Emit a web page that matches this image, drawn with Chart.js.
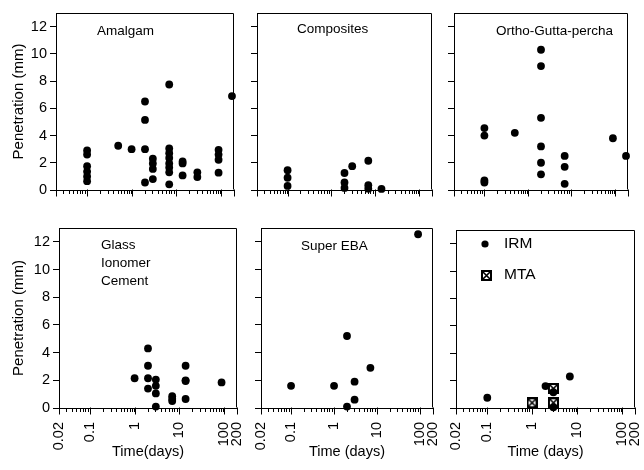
<!DOCTYPE html>
<html>
<head>
<meta charset="utf-8">
<script src="https://cdn.jsdelivr.net/npm/chart.js@4.4.1/dist/chart.umd.min.js"></script>
<style>
  html, body { margin: 0; padding: 0; background: #fff; }
  #wrap { position: relative; width: 644px; height: 470px; overflow: hidden; }
  #wrap canvas { position: absolute; }
</style>
</head>
<body>
<div id="wrap"></div>
<script>
// ── Data: time (days) / penetration (mm) ──
const AMALGAM_T  = [0.1, 0.1, 0.1, 0.1, 0.1, 0.1, 0.5, 1, 2, 2, 2, 2, 3, 3, 3, 3,
                    7, 7, 7, 7, 7, 7, 7, 7, 14, 14, 14, 30, 30, 90, 90, 90, 90, 180];
const AMALGAM_MM = [2.9, 2.6, 1.75, 1.35, 1.0, 0.65, 3.25, 3.0, 6.5, 5.15, 3.0, 0.55, 2.3, 1.95, 1.55, 0.8,
                    7.75, 3.05, 2.7, 2.35, 1.95, 1.65, 1.3, 0.42, 2.1, 1.95, 1.07, 1.3, 0.95, 2.95, 2.6, 2.22, 1.27, 6.9];

const COMPOSITE_T  = [0.1, 0.1, 0.1, 2, 2, 2, 3, 7, 7, 7, 14];
const COMPOSITE_MM = [1.45, 0.9, 0.3, 1.25, 0.55, 0.15, 1.75, 2.15, 0.35, 0.1, 0.08];

const ORTHO_T  = [0.1, 0.1, 0.1, 0.1, 0.5, 2, 2, 2, 2, 2, 2, 7, 7, 7, 90, 180];
const ORTHO_MM = [4.55, 4.0, 0.7, 0.55, 4.2, 10.3, 9.1, 5.3, 3.2, 2.0, 1.15, 2.5, 1.7, 0.45, 3.8, 2.5];

const GLASS_T  = [1, 2, 2, 2, 2, 3, 3, 3, 3, 7, 7, 7, 14, 14, 14, 14, 90];
const GLASS_MM = [2.15, 4.3, 3.05, 2.15, 1.4, 2.05, 1.6, 1.05, 0.1, 0.85, 0.65, 0.5, 3.05, 2.0, 1.95, 0.65, 1.85];

const SUPEREBA_T  = [0.1, 1, 2, 2, 3, 3, 7, 90];
const SUPEREBA_MM = [1.6, 1.6, 5.2, 0.1, 1.9, 0.6, 2.9, 12.55];

const IRM_T  = [0.1, 2, 3, 3, 7];
const IRM_MM = [0.75, 1.6, 1.15, 0.05, 2.3];

const MTA_T  = [1, 3, 3];
const MTA_MM = [0.38, 1.42, 0.38];

// ── Axis ticks ──
const X_TICKS = [0.02, 0.03, 0.04, 0.05, 0.06, 0.07, 0.08, 0.09,
                 0.1, 0.2, 0.3, 0.4, 0.5, 0.6, 0.7, 0.8, 0.9,
                 1, 2, 3, 4, 5, 6, 7, 8, 9,
                 10, 20, 30, 40, 50, 60, 70, 80, 90, 100, 200];
const X_MAJOR  = [0.02, 0.1, 1, 10, 100, 200];
const X_LABELS = ['0.02', '0.1', '1', '10', '100', '200'];
const Y_TICKS  = [0, 2, 4, 6, 8, 10, 12];

const FONT = "'Liberation Sans', Arial, Helvetica, sans-serif";
Chart.defaults.font.family = FONT;
Chart.defaults.color = '#000';

// square with a cross, used for MTA
function mtaMarker() {
    const c = document.createElement('canvas');
    c.width = 11; c.height = 11;
    const g = c.getContext('2d');
    g.fillStyle = '#fff';
    g.fillRect(0, 0, 11, 11);
    g.strokeStyle = '#000';
    g.lineWidth = 2;
    g.strokeRect(1, 1, 9, 9);
    g.lineWidth = 1.6;
    g.beginPath();
    g.moveTo(2, 2); g.lineTo(9, 9);
    g.moveTo(9, 2); g.lineTo(2, 9);
    g.stroke();
    return c;
}
const MTA_IMG = mtaMarker();

const pts = (t, mm) => t.map((v, i) => ({ x: v, y: mm[i] }));
const dots = (t, mm) => ({ data: pts(t, mm), pointStyle: 'circle', pointRadius: 3.9,
                           backgroundColor: '#000', borderWidth: 0, showLine: false, clip: false });

// ── Panels: chart area [left, top, right, bottom] in page px ──
const PANELS = [
    { area: [56, 13, 234, 190],  first: true,  bottom: false, title: '',
      sets: [dots(AMALGAM_T, AMALGAM_MM)],     notes: [['Amalgam', 97, 31]] },
    { area: [257, 13, 432, 190], first: false, bottom: false, title: '',
      sets: [dots(COMPOSITE_T, COMPOSITE_MM)], notes: [['Composites', 297, 29]] },
    { area: [454, 13, 628, 190], first: false, bottom: false, title: '',
      sets: [dots(ORTHO_T, ORTHO_MM)],         notes: [['Ortho-Gutta-percha', 496, 31]] },
    { area: [59, 228, 237, 408], first: true,  bottom: true, title: 'Time(days)',
      sets: [dots(GLASS_T, GLASS_MM)],
      notes: [['Glass', 101, 245], ['Ionomer', 101, 263], ['Cement', 101, 281]] },
    { area: [261, 228, 433, 408], first: false, bottom: true, title: 'Time (days)',
      sets: [dots(SUPEREBA_T, SUPEREBA_MM)],   notes: [['Super EBA', 301, 246]] },
    { area: [456, 228, 635, 408], first: false, bottom: true, title: 'Time (days)',
      sets: [dots(IRM_T, IRM_MM),
             { data: pts(MTA_T, MTA_MM), pointStyle: MTA_IMG, pointRadius: 5, showLine: false, clip: false }],
      notes: [],
      legend: [['dot', 485, 244, 'IRM'], ['mta', 486, 275, 'MTA']] },
];

// box, longer major ticks, in-panel labels and legend
const panelDecor = {
    id: 'panelDecor',
    beforeDatasetsDraw(chart) {
        const { ctx, chartArea: a } = chart;
        ctx.save();
        ctx.strokeStyle = '#000';
        ctx.lineWidth = 1;
        const L = Math.round(a.left) + 0.5, R = Math.round(a.right) - 0.5;
        const T = Math.round(a.top) + 0.5, B = Math.round(a.bottom) - 0.5;
        ctx.beginPath();
        ctx.moveTo(L, T); ctx.lineTo(R, T); ctx.lineTo(R, B);
        // major ticks on the time axis
        const xs = chart.scales.x;
        X_MAJOR.forEach(v => {
            const px = Math.round(xs.getPixelForValue(v)) + 0.5;
            ctx.moveTo(px, B); ctx.lineTo(px, B + 7);
        });
        ctx.stroke();
        ctx.restore();
    },
    afterDraw(chart) {
        const { ctx } = chart;
        const p = chart.options.plugins.panelDecor;
        ctx.save();
        ctx.fillStyle = '#000';
        ctx.font = '13.5px ' + FONT;
        ctx.textBaseline = 'middle';
        ctx.textAlign = 'left';
        p.notes.forEach(([txt, x, y]) => ctx.fillText(txt, x - p.ox, y - p.oy));
        ctx.font = '15.5px ' + FONT;
        (p.legend || []).forEach(([kind, x, y, txt]) => {
            if (kind === 'dot') {
                ctx.beginPath();
                ctx.arc(x - p.ox, y - p.oy, 3.6, 0, Math.PI * 2);
                ctx.fill();
            } else {
                ctx.drawImage(MTA_IMG, Math.round(x - p.ox - 5.5), Math.round(y - p.oy - 5.5));
            }
            ctx.fillText(txt, 504 - p.ox, y - p.oy);
        });
        ctx.restore();
    }
};

const wrap = document.getElementById('wrap');

PANELS.forEach(pn => {
    const [l, t, r, b] = pn.area;
    const left = pn.first ? 0 : l - 14;
    const top  = t - 4;
    const yW   = l - left;
    const xH   = pn.bottom ? 470 - b : 12;
    const canvas = document.createElement('canvas');
    canvas.width  = r + 8 - left;
    canvas.height = b - t + 4 + xH;
    canvas.style.left = left + 'px';
    canvas.style.top  = top + 'px';
    wrap.appendChild(canvas);

    new Chart(canvas, {
        type: 'scatter',
        data: { datasets: pn.sets },
        options: {
            responsive: false,
            animation: false,
            events: [],
            layout: { padding: { left: 0, top: 4, right: 8, bottom: 0 } },
            plugins: {
                legend: { display: false },
                tooltip: { enabled: false },
                panelDecor: { notes: pn.notes, legend: pn.legend, ox: left, oy: top }
            },
            scales: {
                x: {
                    type: 'logarithmic', min: 0.02, max: 200, position: 'bottom',
                    afterBuildTicks: s => { s.ticks = X_TICKS.map(v => ({ value: v, major: X_MAJOR.includes(v) })); },
                    afterFit: s => { s.height = xH; s.paddingLeft = 0; s.paddingRight = 0; },
                    ticks: {
                        display: pn.bottom, autoSkip: false, minRotation: 90, maxRotation: 90,
                        padding: 10, font: { size: 14.5 }, color: '#000',
                        callback: v => { const i = X_MAJOR.indexOf(v); return i < 0 ? '' : X_LABELS[i]; }
                    },
                    grid: { drawOnChartArea: false, drawTicks: true, tickLength: 4, color: '#000' },
                    border: { display: true, color: '#000', width: 1 },
                    title: { display: pn.bottom, text: pn.title, font: { size: 14.5 }, color: '#000',
                             padding: { top: 0, bottom: 9 } }
                },
                y: {
                    min: 0, max: 13,
                    afterBuildTicks: s => { s.ticks = Y_TICKS.map(v => ({ value: v })); },
                    afterFit: s => { s.width = yW; s.paddingTop = 0; s.paddingBottom = 0; },
                    ticks: { display: pn.first, padding: 3, font: { size: 14.5 }, color: '#000' },
                    grid: { drawOnChartArea: false, drawTicks: true, tickLength: 6, color: '#000' },
                    border: { display: true, color: '#000', width: 1 },
                    title: { display: pn.first, text: 'Penetration (mm)', font: { size: 15 }, color: '#000',
                             padding: { top: 10, bottom: 0 } }
                }
            }
        },
        plugins: [panelDecor]
    });
});
</script>
</body>
</html>
